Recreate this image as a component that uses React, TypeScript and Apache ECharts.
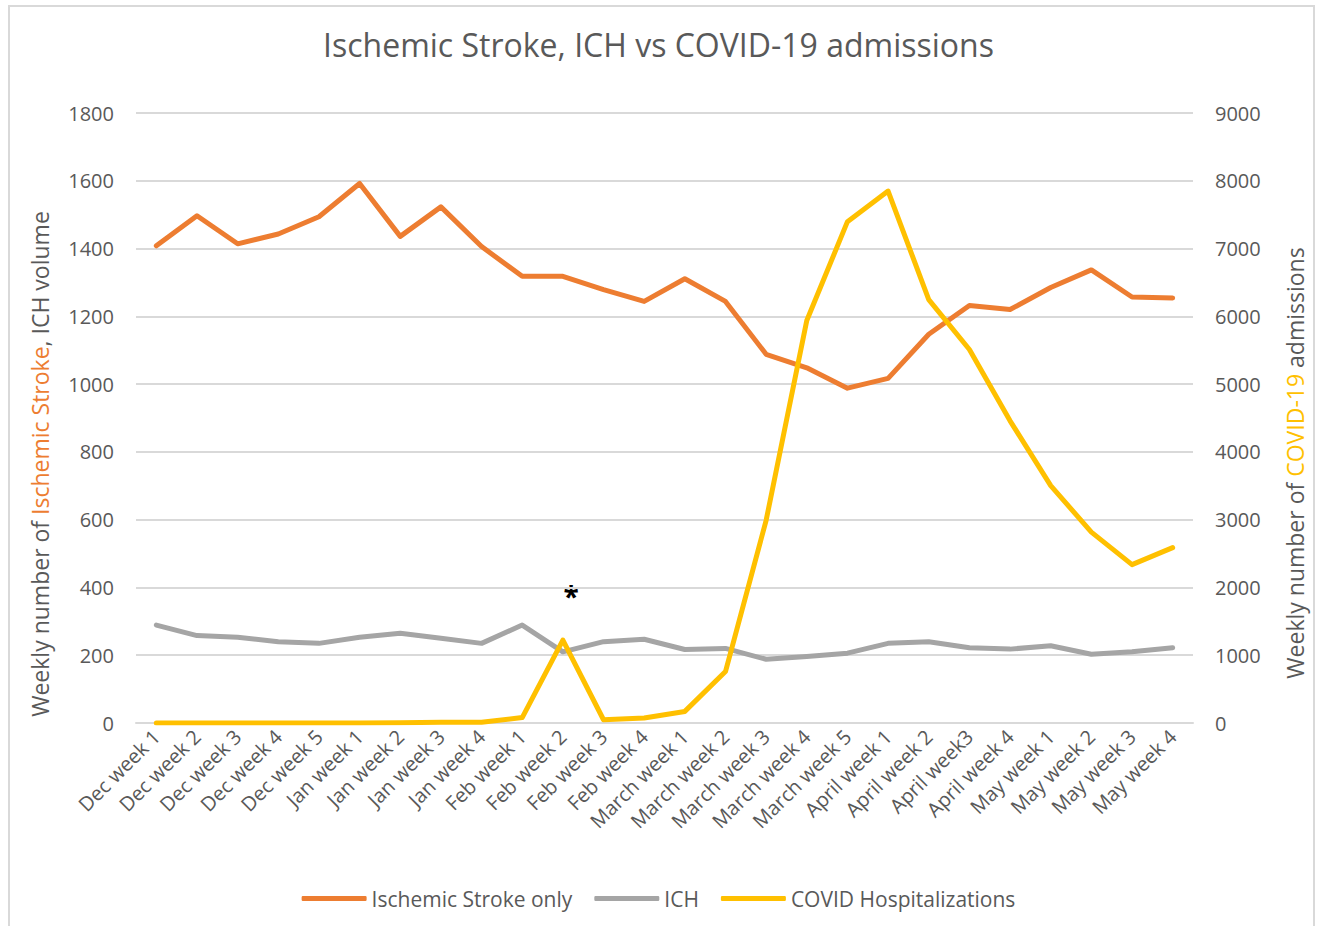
import React, { useEffect, useRef } from "react";
import * as echarts from "echarts";

const categories = [
  "Dec week 1", "Dec week 2", "Dec week 3", "Dec week 4", "Dec week 5",
  "Jan week 1", "Jan week 2", "Jan week 3", "Jan week 4",
  "Feb week 1", "Feb week 2", "Feb week 3", "Feb week 4",
  "March week 1", "March week 2", "March week 3", "March week 4", "March week 5",
  "April week 1", "April week 2", "April week3", "April week 4",
  "May week 1", "May week 2", "May week 3", "May week 4",
];

const ischemicStroke = [
  1408, 1497, 1414, 1443, 1494, 1592, 1436, 1523, 1406, 1318, 1318, 1279, 1244,
  1311, 1244, 1088, 1048, 988, 1017, 1147, 1232, 1220, 1285, 1337, 1257, 1254,
];

const ich = [
  289, 258, 253, 240, 235, 253, 265, 250, 235, 289, 210, 240, 247,
  217, 220, 188, 196, 206, 235, 240, 222, 218, 228, 203, 210, 222,
];

const covid = [
  0, 0, 0, 0, 0, 0, 5, 10, 10, 80, 1224, 48, 73,
  171, 759, 2990, 5938, 7397, 7848, 6246, 5511, 4458, 3502, 2816, 2337, 2587,
];

const leftTicks = [0, 200, 400, 600, 800, 1000, 1200, 1400, 1600, 1800];
const rightTicks = [0, 1000, 2000, 3000, 4000, 5000, 6000, 7000, 8000, 9000];

const FONT = "'Open Sans', sans-serif";
const TXT = "#595959";

export default function App() {
  const ref = useRef<HTMLDivElement>(null);

  useEffect(() => {
    if (!ref.current) return;
    const chart = echarts.init(ref.current, null, { renderer: "svg" });
    const option = {
      animation: false,
      backgroundColor: "#ffffff",
      textStyle: { fontFamily: FONT },
      title: {
        text: "Ischemic Stroke, ICH vs COVID-19 admissions",
        left: "center",
        top: 23,
        textStyle: { fontFamily: FONT, fontSize: 32, fontWeight: "normal", color: TXT },
      },
      grid: { left: 136, right: 124, top: 113, bottom: 203, containLabel: false },
      legend: {
        data: ["Ischemic Stroke only", "ICH", "COVID Hospitalizations"],
        left: "center",
        top: 883,
        icon: "roundRect",
        itemWidth: 65,
        itemHeight: 5,
        itemGap: 22,
        textStyle: { fontFamily: FONT, fontSize: 21, color: TXT },
      },
      xAxis: {
        type: "category",
        data: categories,
        boundaryGap: true,
        axisLine: { show: true, lineStyle: { color: "#d9d9d9", width: 2 } },
        axisTick: { show: false },
        axisLabel: {
          rotate: 45,
          interval: 0,
          margin: 10,
          fontFamily: FONT,
          fontSize: 20,
          color: TXT,
        },
      },
      yAxis: [
        {
          type: "value",
          min: leftTicks[0],
          max: leftTicks[leftTicks.length - 1],
          interval: leftTicks[1] - leftTicks[0],
          axisLine: { show: false },
          axisTick: { show: false },
          splitLine: { lineStyle: { color: "#d9d9d9", width: 2 } },
          axisLabel: {
            fontFamily: FONT,
            fontSize: 20,
            color: TXT,
            margin: 22,
            formatter: (v: number) => String(v),
          },
        },
        {
          type: "value",
          min: rightTicks[0],
          max: rightTicks[rightTicks.length - 1],
          interval: rightTicks[1] - rightTicks[0],
          axisLine: { show: false },
          axisTick: { show: false },
          splitLine: { show: false },
          axisLabel: {
            fontFamily: FONT,
            fontSize: 20,
            color: TXT,
            margin: 22,
            formatter: (v: number) => String(v),
          },
        },
      ],
      series: [
        {
          name: "Ischemic Stroke only",
          type: "line",
          data: ischemicStroke,
          yAxisIndex: 0,
          symbol: "none",
          lineStyle: { color: "#ED7D31", width: 5, cap: "round", join: "round" },
          itemStyle: { color: "#ED7D31" },
        },
        {
          name: "ICH",
          type: "line",
          data: ich,
          yAxisIndex: 0,
          symbol: "none",
          lineStyle: { color: "#A5A5A5", width: 5, cap: "round", join: "round" },
          itemStyle: { color: "#A5A5A5" },
        },
        {
          name: "COVID Hospitalizations",
          type: "line",
          data: covid,
          yAxisIndex: 1,
          symbol: "none",
          lineStyle: { color: "#FFC000", width: 5, cap: "round", join: "round" },
          itemStyle: { color: "#FFC000" },
        },
      ],
      graphic: [
        {
          type: "rect",
          shape: { x: 9, y: 6, width: 1305, height: 940 },
          style: { fill: "none", stroke: "#d9d9d9", lineWidth: 2 },
          silent: true,
          z: -1,
        },
        {
          type: "text",
          x: 40,
          y: 464,
          rotation: Math.PI / 2,
          style: {
            text: "{g|Weekly number of }{o|Ischemic Stroke}{g|, ICH volume}",
            align: "center",
            verticalAlign: "middle",
            rich: {
              g: { fontFamily: FONT, fontSize: 23, fill: TXT, color: TXT },
              o: { fontFamily: FONT, fontSize: 23, fill: "#ED7D31", color: "#ED7D31" },
            },
          },
        },
        {
          type: "text",
          x: 1295,
          y: 463,
          rotation: Math.PI / 2,
          style: {
            text: "{g|Weekly number of }{y|COVID-19}{g| admissions}",
            align: "center",
            verticalAlign: "middle",
            rich: {
              g: { fontFamily: FONT, fontSize: 23, fill: TXT, color: TXT },
              y: { fontFamily: FONT, fontSize: 23, fill: "#FFC000", color: "#FFC000" },
            },
          },
        },
        {
          type: "text",
          x: 571,
          y: 596,
          style: {
            text: "*",
            align: "center",
            verticalAlign: "middle",
            fontFamily: FONT,
            fontSize: 28,
            fontWeight: "bold",
            fill: "#000000",
          },
        },
      ],
    };
    chart.setOption(option as any);
    return () => chart.dispose();
  }, []);

  return (
    <div
      ref={ref}
      style={{ position: "fixed", left: 0, top: 0, width: 1317, height: 926 }}
    />
  );
}
